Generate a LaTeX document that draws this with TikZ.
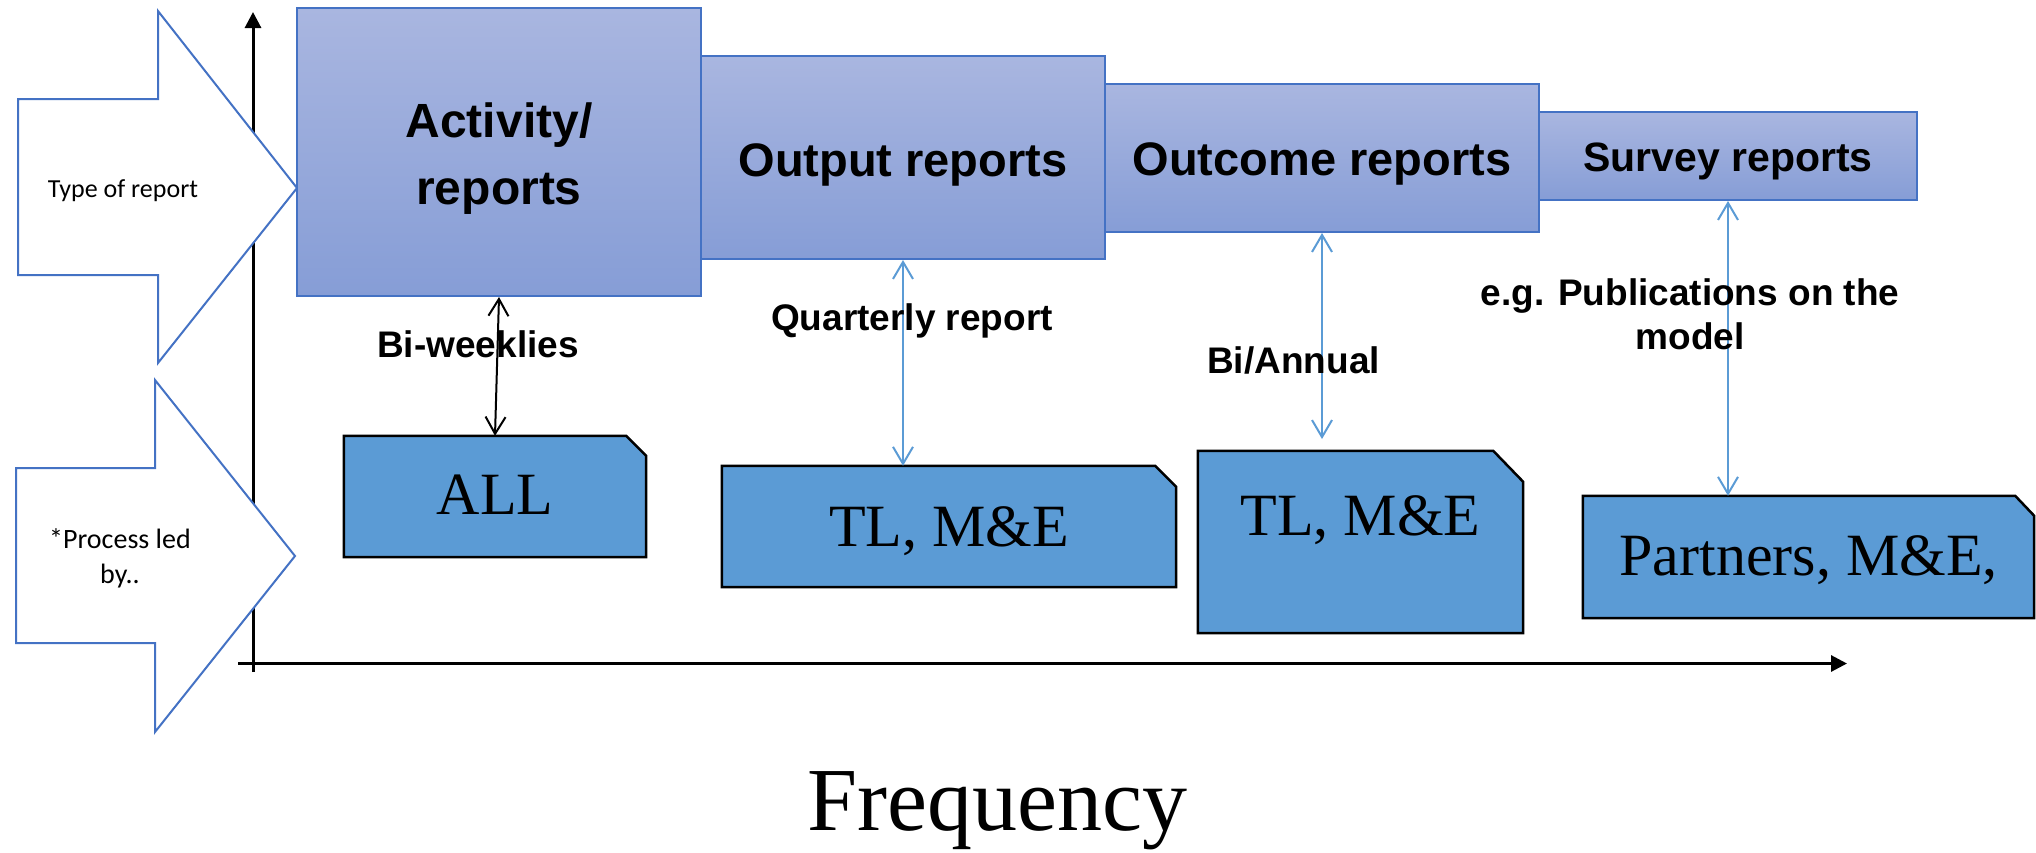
\documentclass[tikz,border=0pt]{standalone}
\usepackage{fontspec}
\setmainfont{Liberation Serif}
\newfontfamily\arialf{Liberation Sans}
\newfontfamily\calib{Carlito}
\usetikzlibrary{arrows.meta,calc,backgrounds}

\definecolor{topA}{RGB}{169,182,224}
\definecolor{botA}{RGB}{134,157,214}
\definecolor{edgeA}{RGB}{68,114,196}
\definecolor{lowfill}{RGB}{91,155,213}
\definecolor{conn}{RGB}{91,155,213}

\tikzset{
  topbox/.style={draw=edgeA, line width=2pt, top color=topA, bottom color=botA,
    inner sep=0pt, align=center, text=black, anchor=base},
  lowbox/.style={inner sep=0pt, anchor=base, font=\fontsize{60}{72}\selectfont},
  lowshape/.style={draw=black, line width=2.5pt, fill=lowfill, line join=miter},
  bigarrow/.style={draw=edgeA, line width=2pt, fill=white, line join=miter},
  axisline/.style={line width=3pt, -{Triangle[length=16pt,width=16pt]}},
  link/.style={line width=2pt, {Straight Barb[length=17pt,width=20pt]}-{Straight Barb[length=17pt,width=20pt]}},
  lbl/.style={font=\arialf\bfseries\fontsize{37}{44}\selectfont, inner sep=0pt, align=center},
}

\newcommand\cutbox[3]{%
  \draw[lowshape] (#1.south west) -- (#1.north west) -- ($(#1.north east)+(-#2,0)$)
    -- ($(#1.north east)+(0,#3)$) -- (#1.south east) -- cycle;}

\begin{document}
\begin{tikzpicture}[x=1pt,y=-1pt]
\useasboundingbox (0,0) rectangle (2036,852);

% axes
\coordinate (yb) at (253,672);
\coordinate (yt) at (253,12);
\coordinate (xl) at (238,663.5);
\coordinate (xr) at (1847,663.5);
\draw[axisline] (yb) -- (yt);
\draw[axisline] (xl) -- (xr);

% big block arrows
\draw[bigarrow] (18,99) -- (158,99) -- (158,11) -- (297,188) -- (158,363) -- (158,275) -- (18,275) -- cycle;
\draw[bigarrow] (16,468) -- (155,468) -- (155,380) -- (295,556) -- (155,732) -- (155,643) -- (16,643) -- cycle;
\node[font=\calib\fontsize{26}{32}\selectfont, anchor=base, inner sep=0pt] (tor) at (123,197) {Type of report};
\node[font=\calib\fontsize{28}{35}\selectfont, align=center, inner sep=0pt] (pl) at (120,558) {*Process led\\by..};

% report type boxes (text height / depth = box top / bottom around the text baseline)
\node[topbox, minimum width=404, text height=196, text depth=92, font=\arialf\bfseries\fontsize{48}{67}\selectfont] (act) at (499,204) {Activity/\\reports};
\node[topbox, minimum width=404, text height=120, text depth=83, font=\arialf\bfseries\fontsize{47}{56}\selectfont] (out) at (903,176) {Output reports};
\node[topbox, minimum width=434, text height=91, text depth=57, font=\arialf\bfseries\fontsize{47}{56}\selectfont] (outc) at (1322,175) {Outcome reports};
\node[topbox, minimum width=378, text height=59, text depth=29, font=\arialf\bfseries\fontsize{41}{50}\selectfont] (surv) at (1728,171) {Survey reports};

% process-led boxes
\node[lowbox, minimum width=302, text height=78, text depth=43] (all) at (495,514) {ALL};
\node[lowbox, minimum width=454, text height=80, text depth=41] (tla) at (949,546) {TL, M\&E};
\node[lowbox, minimum width=325, text height=84, text depth=98] (tlb) at (1360.5,535) {TL, M\&E};
\node[lowbox, minimum width=451, text height=79, text depth=43] (part) at (1808.5,575) {Partners, M\&E,};
\begin{scope}[on background layer]
  \cutbox{all}{20}{20}
  \cutbox{tla}{21}{21}
  \cutbox{tlb}{30}{31}
  \cutbox{part}{19}{20}
\end{scope}

% connectors
\coordinate (baend) at (1322,439);
\draw[link] (all.north) -- (act.south);
\draw[link, draw=conn] (out.south |- tla.north) -- (out.south);
\draw[link, draw=conn] (baend) -- (outc.south);
\draw[link, draw=conn] (surv.south |- part.north) -- (surv.south);

% frequency labels
\node[lbl, anchor=base] (bw) at (478,357) {Bi-weeklies};
\node[lbl, anchor=base] (qr) at (912,330) {Quarterly report};
\node[lbl, anchor=base] (ba) at (1293.5,373) {Bi/Annual};
\node[lbl] (pub) at (1690,314.5) {e.g. Publications on the\\model};

\node[font=\fontsize{90}{100}\selectfont, anchor=base, inner sep=0pt] (freq) at (997.5,830) {Frequency};
\end{tikzpicture}
\end{document}
